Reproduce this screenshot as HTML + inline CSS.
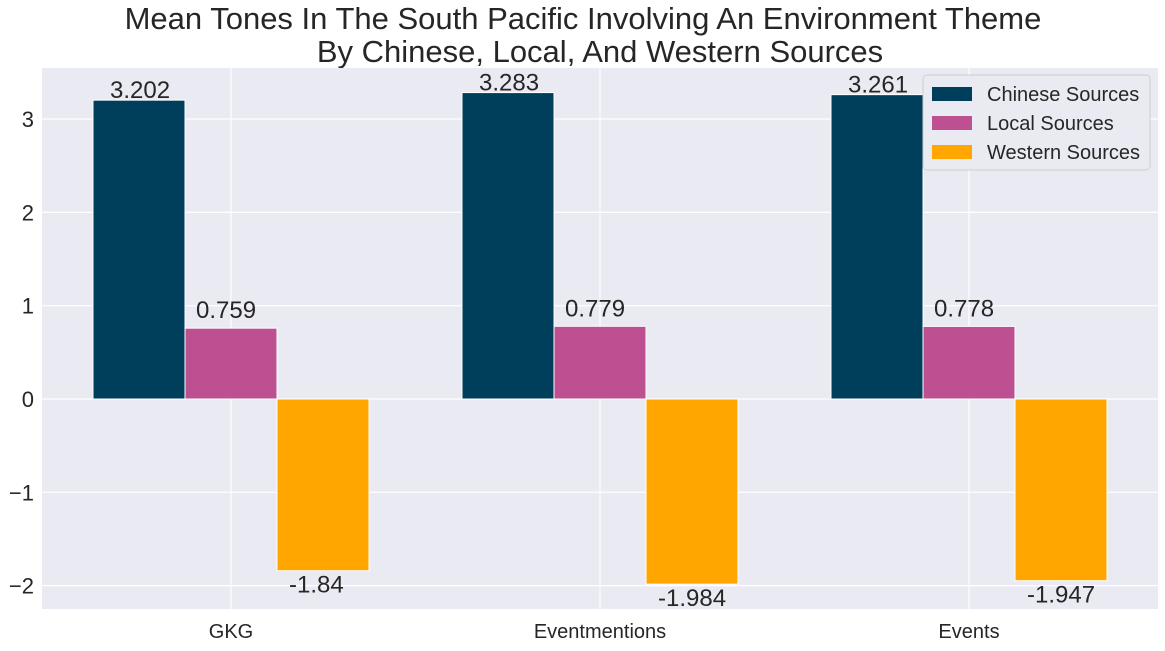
<!DOCTYPE html>
<html><head><meta charset="utf-8"><style>
body{margin:0;background:#fff;font-family:"Liberation Sans",Arial,sans-serif;}
svg text{font-family:"Liberation Sans",Arial,sans-serif;fill:#262626;}
</style></head><body>
<svg id="chart" width="1165" height="646" xmlns="http://www.w3.org/2000/svg">
<rect width="1165" height="646" fill="#fff"/>
<text x="583" y="29" font-size="31" text-anchor="middle">Mean Tones In The South Pacific Involving An Environment Theme</text>
<text x="600" y="62" font-size="31" text-anchor="middle">By Chinese, Local, And Western Sources</text>
<rect x="42" y="68" width="1116" height="541" fill="#eaeaf2"/>
<g id="grid"></g><g id="bars"></g><g id="labels"></g><g id="ticks"></g>
<g>
<rect x="923" y="75" width="227" height="95" rx="4" fill="#eaeaf2" stroke="#cccccc" opacity="0.9"/>
<rect x="932" y="87" width="40" height="14" fill="#003f5c"/>
<text x="987" y="101" font-size="20">Chinese Sources</text>
<rect x="932" y="116" width="40" height="14" fill="#bc5090"/>
<text x="987" y="130" font-size="20">Local Sources</text>
<rect x="932" y="145" width="40" height="14" fill="#ffa600"/>
<text x="987" y="159" font-size="20">Western Sources</text>
</g>
</svg>
<script>
const categories=["GKG","Eventmentions","Events"];
const chinese=[3.202,3.283,3.261];
const local=[0.759,0.779,0.778];
const western=[-1.84,-1.984,-1.947];
const yTicks=[-2,-1,0,1,2,3];
const NS="http://www.w3.org/2000/svg";
const X=i=>231+i*369, BW=92;
const Y=v=>399-v*93.33;
function mk(tag,attrs,parent){const e=document.createElementNS(NS,tag);for(const k in attrs)e.setAttribute(k,attrs[k]);document.getElementById(parent).appendChild(e);return e;}
yTicks.forEach(t=>{
  const l=mk('line',{x1:42,x2:1158,y1:Y(t),y2:Y(t),stroke:'#fff','stroke-width':1.2},'grid');
  
  
  const tx=mk('text',{x:34,y:Y(t)+8,'font-size':22,'text-anchor':'end'},'ticks');
  tx.textContent=t<0?'\u2212'+Math.abs(t):String(t);
  
  
});
categories.forEach((c,i)=>{
  const l=mk('line',{x1:X(i),x2:X(i),y1:68,y2:609,stroke:'#fff','stroke-width':1.2},'grid');
  
  
  const tx=mk('text',{x:X(i),y:638,'font-size':20,'text-anchor':'middle'},'ticks');
  tx.textContent=c;
  
  
});
const series=[[chinese,'#003f5c','chinese',-1,17,-2],[local,'#bc5090','local',0,11,-10],[western,'#ffa600','western',1,12,0]];
series.forEach(([vals,col,name,off,dx,dy])=>{
  vals.forEach((v,i)=>{
    const cx=X(i)+off*BW;
    const y0=Y(Math.max(v,0)),y1=Y(Math.min(v,0));
    const r=mk('rect',{x:cx-BW/2,y:y0,width:BW,height:y1-y0,fill:col,stroke:'#fff','stroke-width':1},'bars');
    
    
    const t=mk('text',{x:cx-BW/2+dx,y:v>=0?Y(v)+dy:Y(v)+22,'font-size':24,'text-anchor':'start'},'labels');
    t.textContent=String(v);
    
    
  });
});
</script>
</body></html>
